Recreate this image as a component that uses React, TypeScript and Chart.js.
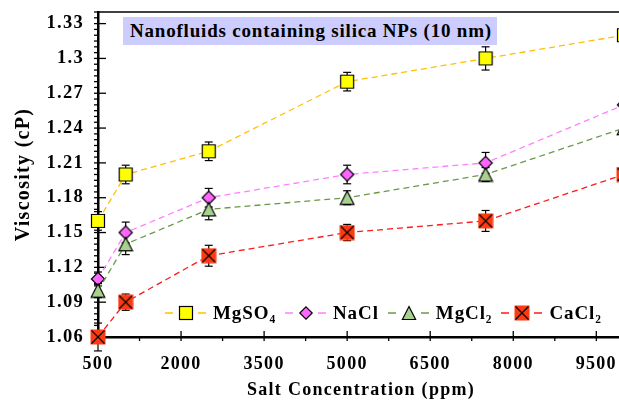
import React, { useEffect, useRef } from 'react';
import { Chart, registerables } from 'chart.js';

Chart.register(...registerables);

// ---------- data ----------
const CONCENTRATIONS = [500, 1000, 2500, 5000, 7500, 10000];
const MGSO4 = [1.16, 1.2, 1.22, 1.28, 1.3, 1.32];
const NACL = [1.11, 1.15, 1.18, 1.2, 1.21, 1.26];
const MGCL2 = [1.1, 1.14, 1.17, 1.18, 1.2, 1.24];
const CACL2 = [1.06, 1.09, 1.13, 1.15, 1.16, 1.2];
const MGSO4_ERR = [0.008, 0.008, 0.008, 0.008, 0.01, 0.008];
const NACL_ERR = [0.006, 0.009, 0.008, 0.008, 0.009, 0.008];
const MGCL2_ERR = [0.006, 0.009, 0.009, 0.006, 0.006, 0.006];
const CACL2_ERR = [0.012, 0.007, 0.009, 0.007, 0.009, 0.007];
const SERIES_LABELS = ['MgSO₄', 'NaCl', 'MgCl₂', 'CaCl₂'];
const X_TICKS = [500, 2000, 3500, 5000, 6500, 8000, 9500];
const X_MINOR_TICKS = [1250, 2750, 4250, 5750, 7250, 8750];
const Y_TICKS = [1.06, 1.09, 1.12, 1.15, 1.18, 1.21, 1.24, 1.27, 1.3, 1.33];
const Y_MINOR_PER_MAJOR = 5;
const TITLE = 'Nanofluids containing silica NPs (10 nm)';
const X_TITLE = 'Salt Concentration (ppm)';
const Y_TITLE = 'Viscosity (cP)';

type Kind = 'square' | 'diamond' | 'triangle' | 'xsquare';

const STYLES: { kind: Kind; line: string; fill: string }[] = [
  { kind: 'square', line: '#ffc000', fill: '#ffff00' },
  { kind: 'diamond', line: '#ff80ff', fill: '#ff66ff' },
  { kind: 'triangle', line: '#6a9a48', fill: '#a9d18e' },
  { kind: 'xsquare', line: '#ff1a1a', fill: '#ff3a10' },
];
const VALUES = [MGSO4, NACL, MGCL2, CACL2];
const ERRORS = [MGSO4_ERR, NACL_ERR, MGCL2_ERR, CACL2_ERR];

const FONT_FAMILY = "'Liberation Serif', 'Times New Roman', serif";

function makeMarker(kind: Kind, fill: string): HTMLCanvasElement {
  const c = document.createElement('canvas');
  c.width = 16;
  c.height = 16;
  const g = c.getContext('2d')!;
  g.lineWidth = 1.2;
  g.strokeStyle = '#000';
  g.fillStyle = fill;
  g.beginPath();
  if (kind === 'square') {
    g.rect(1.5, 1.5, 13, 13);
    g.fill();
    g.stroke();
  } else if (kind === 'diamond') {
    g.moveTo(8, 1.4);
    g.lineTo(14.6, 8);
    g.lineTo(8, 14.6);
    g.lineTo(1.4, 8);
    g.closePath();
    g.fill();
    g.stroke();
  } else if (kind === 'triangle') {
    g.moveTo(8, 1.3);
    g.lineTo(14.8, 14.6);
    g.lineTo(1.2, 14.6);
    g.closePath();
    g.fill();
    g.stroke();
  } else {
    g.rect(0.5, 0.5, 15, 15);
    g.fill();
    g.beginPath();
    g.moveTo(1.5, 1.5);
    g.lineTo(14.5, 14.5);
    g.moveTo(14.5, 1.5);
    g.lineTo(1.5, 14.5);
    g.stroke();
  }
  return c;
}

const spacingPlugin = {
  id: 'spacing',
  beforeUpdate(chart: any) {
    (chart.ctx as any).letterSpacing = '1.3px';
  },
  beforeDraw(chart: any) {
    (chart.ctx as any).letterSpacing = '1.3px';
  },
};

const decorPlugin = {
  id: 'decor',
  beforeDatasetsDraw(chart: any) {
    const { ctx, chartArea } = chart;
    const xs = chart.scales.x;
    const ys = chart.scales.y;
    const line = (x1: number, y1: number, x2: number, y2: number) => {
      ctx.beginPath();
      ctx.moveTo(x1, y1);
      ctx.lineTo(x2, y2);
      ctx.stroke();
    };
    ctx.save();
    ctx.strokeStyle = '#000';
    // top frame line
    ctx.lineWidth = 1.5;
    line(chartArea.left, chartArea.top, chartArea.right, chartArea.top);
    // y ticks
    ctx.lineWidth = 1.3;
    const ax = chartArea.left;
    Y_TICKS.forEach((v, i) => {
      const py = ys.getPixelForValue(v);
      line(ax - 4, py, ax + 8, py);
      const step = (i < Y_TICKS.length - 1 ? Y_TICKS[i + 1] - v : Y_TICKS[1] - Y_TICKS[0]) / (Y_MINOR_PER_MAJOR + 1);
      for (let k = 1; k <= Y_MINOR_PER_MAJOR; k++) {
        const mv = v + k * step;
        if (mv > ys.max) break;
        const my = ys.getPixelForValue(mv);
        line(ax - 4, my, ax, my);
      }
    });
    // x ticks
    const ay = chartArea.bottom;
    X_TICKS.forEach((v) => {
      const px = xs.getPixelForValue(v);
      line(px, ay - 6, px, ay + 4);
    });
    X_MINOR_TICKS.forEach((v) => {
      const px = xs.getPixelForValue(v);
      line(px, ay, px, ay + 4);
    });
    // error bars
    ctx.lineWidth = 1.2;
    VALUES.forEach((vals, s) => {
      vals.forEach((v, i) => {
        const e = ERRORS[s][i];
        const px = xs.getPixelForValue(CONCENTRATIONS[i]);
        const top = ys.getPixelForValue(v + e);
        const bot = ys.getPixelForValue(v - e);
        line(px, top, px, bot);
        line(px - 4, top, px + 4, top);
        line(px - 4, bot, px + 4, bot);
      });
    });
    ctx.restore();
  },
};

function LegendIcon({ kind, line, fill }: { kind: Kind; line: string; fill: string }) {
  let marker: React.ReactNode;
  if (kind === 'square') {
    marker = <rect x={14.5} y={1.5} width={13} height={13} fill={fill} stroke="#000" strokeWidth={1.2} />;
  } else if (kind === 'diamond') {
    marker = <polygon points="21,1.8 27.2,8 21,14.2 14.8,8" fill={fill} stroke="#000" strokeWidth={1.2} />;
  } else if (kind === 'triangle') {
    marker = <polygon points="21,1.5 27.6,14.5 14.4,14.5" fill={fill} stroke="#000" strokeWidth={1.2} />;
  } else {
    marker = (
      <g>
        <rect x={13.5} y={0.5} width={15} height={15} fill={fill} />
        <line x1={14.5} y1={1.5} x2={27.5} y2={14.5} stroke="#000" strokeWidth={1.2} />
        <line x1={27.5} y1={1.5} x2={14.5} y2={14.5} stroke="#000" strokeWidth={1.2} />
      </g>
    );
  }
  return (
    <svg width={41} height={16} style={{ display: 'block', flex: '0 0 auto' }}>
      <line x1={0} y1={8} x2={8} y2={8} stroke={line} strokeWidth={1.5} />
      <line x1={33} y1={8} x2={41} y2={8} stroke={line} strokeWidth={1.5} />
      {marker}
    </svg>
  );
}

export default function App() {
  const ref = useRef<HTMLCanvasElement>(null);

  useEffect(() => {
    const canvas = ref.current!;
    const font = { family: FONT_FAMILY, weight: 'bold' as const };
    const chart = new Chart(canvas, {
      type: 'line',
      data: {
        datasets: SERIES_LABELS.map((label, s) => ({
          label,
          data: CONCENTRATIONS.map((x, i) => ({ x, y: VALUES[s][i] })),
          borderColor: STYLES[s].line,
          backgroundColor: STYLES[s].fill,
          borderWidth: 1.3,
          borderDash: [6, 4],
          pointStyle: makeMarker(STYLES[s].kind, STYLES[s].fill),
          pointRadius: 7,
          pointHoverRadius: 7,
          tension: 0,
          fill: false,
          clip: false as any,
          order: SERIES_LABELS.length - 1 - s,
        })),
      },
      options: {
        responsive: false,
        animation: false,
        devicePixelRatio: 1,
        events: [],
        layout: { padding: { left: 0, top: 12, right: 16, bottom: 0 } },
        plugins: {
          legend: { display: false },
          title: { display: false },
          tooltip: { enabled: false },
        },
        scales: {
          x: {
            type: 'linear',
            min: 500,
            max: 10000,
            afterBuildTicks: (scale: any) => {
              scale.ticks = X_TICKS.map((value) => ({ value }));
            },
            afterFit: (scale: any) => {
              scale.height = 64;
              scale.paddingLeft = 0;
              scale.paddingRight = 0;
            },
            grid: { display: false, drawTicks: false },
            border: { display: true, color: '#000', width: 2.5 },
            ticks: {
              autoSkip: false,
              maxRotation: 0,
              padding: 17,
              color: '#000',
              font: { ...font, size: 18 },
              callback: (v: any) => String(v),
            },
            title: {
              display: true,
              text: X_TITLE,
              color: '#000',
              font: { ...font, size: 18 },
              padding: { top: 0, bottom: 0 },
            },
          },
          y: {
            type: 'linear',
            min: 1.06,
            max: 1.34,
            afterBuildTicks: (scale: any) => {
              scale.ticks = Y_TICKS.map((value) => ({ value }));
            },
            afterFit: (scale: any) => {
              scale.width = 98;
              scale.paddingTop = 0;
              scale.paddingBottom = 0;
            },
            grid: { display: false, drawTicks: false },
            border: { display: true, color: '#000', width: 2.5 },
            ticks: {
              autoSkip: false,
              padding: 14,
              color: '#000',
              font: { ...font, size: 18.5 },
              callback: (v: any) => String(Math.round(Number(v) * 100) / 100),
            },
            title: {
              display: true,
              text: Y_TITLE,
              color: '#000',
              font: { ...font, size: 20 },
              padding: { top: 12, bottom: 0 },
            },
          },
        },
      },
      plugins: [spacingPlugin, decorPlugin],
    } as any);
    return () => chart.destroy();
  }, []);

  return (
    <div
      style={{
        position: 'fixed',
        left: 0,
        top: 0,
        width: 619,
        height: 401,
        overflow: 'hidden',
        background: '#fff',
      }}
    >
      <canvas
        ref={ref}
        width={640}
        height={401}
        style={{ position: 'absolute', left: 0, top: 0, width: 640, height: 401 }}
      />
      <div
        style={{
          position: 'absolute',
          left: 123,
          top: 17,
          width: 374,
          height: 28,
          background: '#ccccff',
          boxSizing: 'border-box',
          paddingLeft: 7,
          fontFamily: FONT_FAMILY,
          fontWeight: 'bold',
          fontSize: 19,
          lineHeight: '28px',
          letterSpacing: '0.8px',
          color: '#000',
          whiteSpace: 'nowrap',
        }}
      >
        {TITLE}
      </div>
      <div
        style={{
          position: 'absolute',
          left: 165,
          top: 302,
          height: 22,
          display: 'flex',
          alignItems: 'center',
          fontFamily: FONT_FAMILY,
          fontWeight: 'bold',
          fontSize: 19,
          letterSpacing: '0.9px',
          color: '#000',
          whiteSpace: 'nowrap',
        }}
      >
        {SERIES_LABELS.map((label, s) => (
          <div key={label} style={{ display: 'flex', alignItems: 'center', marginRight: 9 }}>
            <LegendIcon kind={STYLES[s].kind} line={STYLES[s].line} fill={STYLES[s].fill} />
            <span style={{ marginLeft: 7 }}>{label}</span>
          </div>
        ))}
      </div>
    </div>
  );
}
